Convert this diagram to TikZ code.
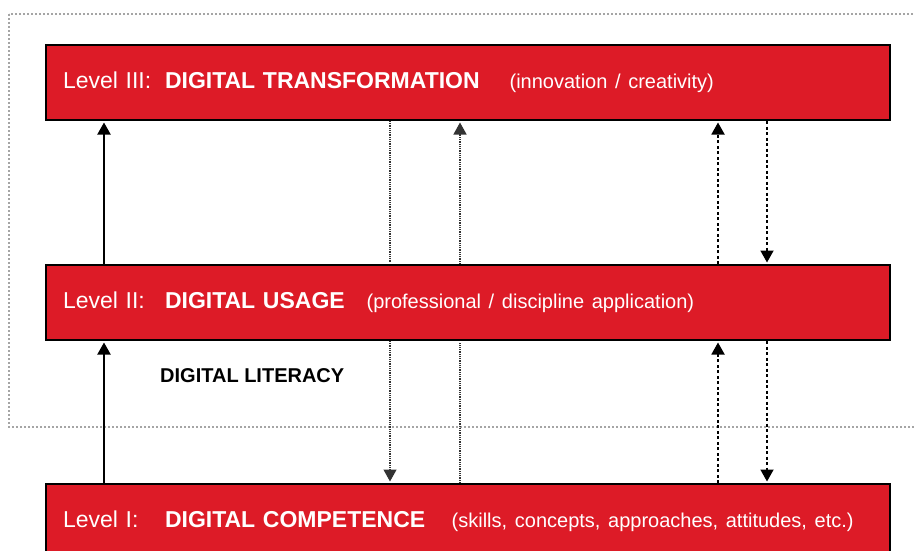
\documentclass[tikz,border=0pt]{standalone}
\usepackage{fontspec}
\setmainfont{Liberation Sans}
\usetikzlibrary{arrows.meta}
\definecolor{lvlred}{RGB}{221,27,39}
\definecolor{framegray}{RGB}{165,165,165}
\newcommand{\lvltag}[1]{\makebox[102pt][l]{#1}}
\newcommand{\lvlnote}[1]{{\fontsize{20}{24}\selectfont #1}}

\begin{document}
\begin{tikzpicture}[line join=miter,>={Triangle[width=13pt,length=12pt]},x=1pt,y=-1pt,
	level/.style={draw=black,line width=2pt,fill=lvlred,text=white,minimum height=75pt,text width=810pt,inner xsep=17pt,inner ysep=0pt,align=left,font=\fontsize{23}{27}\selectfont},
	solidarr/.style={line width=2pt,shorten >=1.5pt},
	finedot/.style={line width=1.3pt,black!80,dash pattern=on 1pt off 0.8pt,shorten >=1.5pt},
	coarsedot/.style={line width=1.8pt,dash pattern=on 3pt off 2.5pt,shorten >=1.5pt}]%levels
	\path[use as bounding box] (0,0) rectangle (915,551);
	\clip (0,0) rectangle (915,551);
	\draw [framegray,line width=1.5pt,dash pattern=on 2pt off 2pt] (9,14) rectangle (940,427);
	% the three levels
	\node[level] (lvlIII) at (468,82.5) {\mbox{\lvltag{Level III:}\textbf{DIGITAL TRANSFORMATION}\hspace{1.3em}\lvlnote{(innovation / creativity)}}};
	\node[level] (lvlII) at (468,302.5) {\mbox{\lvltag{Level II:}\textbf{DIGITAL USAGE}\hspace{0.95em}\lvlnote{(professional / discipline application)}}};
	\node[level] (lvlI) at (468,521.5) {\mbox{\lvltag{Level I:}\textbf{DIGITAL COMPETENCE}\hspace{1.15em}\lvlnote{(skills, concepts, approaches, attitudes, etc.)}}};
	\node[anchor=west,inner sep=0pt,font=\bfseries\fontsize{20}{24}\selectfont] (lit) at (160,375.5) {DIGITAL LITERACY};
	% columns of the connectors
	\coordinate (c1) at (104,0);
	\coordinate (c2) at (390,0);
	\coordinate (c3) at (460,0);
	\coordinate (c4) at (718,0);
	\coordinate (c5) at (767,0);
	\draw [solidarr,->] (lvlII.north -| c1) -- (lvlIII.south -| c1);
	\draw [solidarr,->] (lvlI.north -| c1) -- (lvlII.south -| c1);
	\draw [finedot] (lvlIII.south -| c2) -- (lvlII.north -| c2);
	\draw [finedot,->] (lvlII.south -| c2) -- (lvlI.north -| c2);
	\draw [finedot,->] (lvlII.north -| c3) -- (lvlIII.south -| c3);
	\draw [finedot] (lvlI.north -| c3) -- (lvlII.south -| c3);
	\draw [coarsedot,->] (lvlII.north -| c4) -- (lvlIII.south -| c4);
	\draw [coarsedot,->] (lvlI.north -| c4) -- (lvlII.south -| c4);
	\draw [coarsedot,->] (lvlIII.south -| c5) -- (lvlII.north -| c5);
	\draw [coarsedot,->] (lvlII.south -| c5) -- (lvlI.north -| c5);
\end{tikzpicture}
\end{document}
